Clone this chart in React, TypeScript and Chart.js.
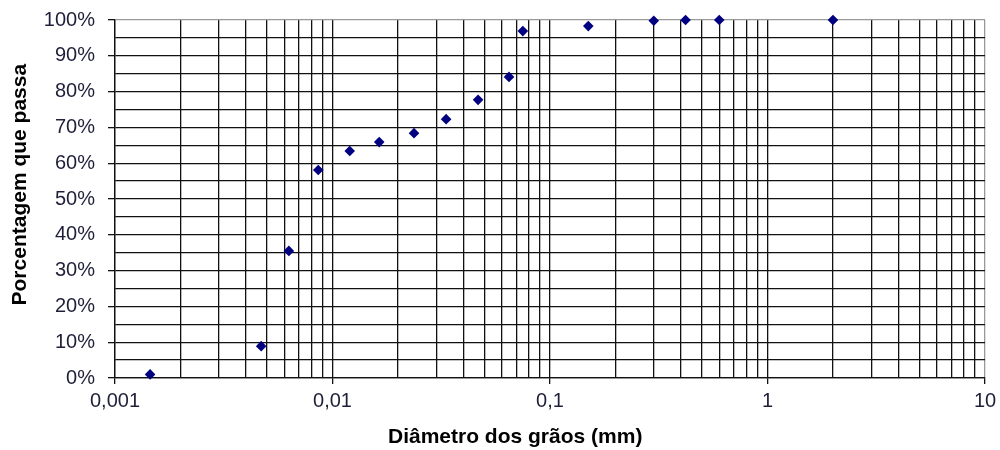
import React, { useEffect, useRef } from "react";
import { Chart, registerables } from "chart.js";

Chart.register(...registerables);

// Grain size distribution (diameter in mm, percent passing)
const diameters = [0.00145, 0.0047, 0.0063, 0.0086, 0.012, 0.0164, 0.0237, 0.0333, 0.0467, 0.0648, 0.075, 0.15, 0.3, 0.42, 0.6, 2.0];
const passing = [1, 8.9, 35.5, 58.1, 63.4, 65.9, 68.4, 72.3, 77.7, 84.1, 96.9, 98.3, 99.8, 100, 100, 100];

const decades = [0.001, 0.01, 0.1, 1, 10];
const decadeLabels = ["0,001", "0,01", "0,1", "1", "10"];
const minorMultipliers = [1, 2, 3, 4, 5, 6, 7, 8, 9];
const yGridValues = [0, 5, 10, 15, 20, 25, 30, 35, 40, 45, 50, 55, 60, 65, 70, 75, 80, 85, 90, 95, 100];

const xTitle = "Diâmetro dos grãos (mm)";
const yTitle = "Porcentagem que passa";

const xTickValues: number[] = [];
decades.slice(0, -1).forEach((d) => minorMultipliers.forEach((m) => xTickValues.push(m * d)));
xTickValues.push(decades[decades.length - 1]);

const FONT = '"Liberation Sans", Arial, sans-serif';

const titlePlugin = {
  id: "axisTitles",
  afterDraw(chart: any) {
    const { ctx, chartArea } = chart;
    const w = chartArea.right - chartArea.left;
    const h = chartArea.bottom - chartArea.top;
    ctx.save();
    ctx.fillStyle = "#000";
    ctx.font = `bold 21px ${FONT}`;
    ctx.textAlign = "center";
    ctx.textBaseline = "middle";
    ctx.fillText(xTitle, chartArea.left + w * 0.46, chartArea.bottom + 59);
    ctx.translate(20, chartArea.top + h * 0.46);
    ctx.rotate(-Math.PI / 2);
    ctx.fillText(yTitle, 0, 0);
    ctx.restore();
  },
};

export default function App() {
  const ref = useRef<HTMLCanvasElement | null>(null);

  useEffect(() => {
    if (!ref.current) return;
    const chart = new Chart(ref.current, {
      type: "scatter",
      data: {
        datasets: [
          {
            data: diameters.map((d, i) => ({ x: d, y: passing[i] })),
            pointStyle: "rectRot",
            pointRadius: 5.3,
            pointBackgroundColor: "#000080",
            pointBorderColor: "#000080",
            pointBorderWidth: 0,
            showLine: false,
            clip: false as any,
          },
        ],
      },
      options: {
        animation: false,
        responsive: false,
        layout: { padding: { left: 0, top: 20, right: 15, bottom: 0 } },
        plugins: {
          legend: { display: false },
          tooltip: { enabled: false },
          title: { display: false },
        },
        scales: {
          x: {
            type: "logarithmic",
            min: 0.001,
            max: 10,
            afterBuildTicks: (scale: any) => {
              scale.ticks = xTickValues.map((v) => ({ value: v, major: decades.includes(v) }));
            },
            afterFit: (scale: any) => {
              scale.height = 72;
              scale.paddingLeft = 0;
              scale.paddingRight = 0;
            },
            ticks: {
              autoSkip: false,
              maxRotation: 0,
              minRotation: 0,
              padding: 5,
              color: "#1f1f3a",
              font: { family: FONT, size: 20 },
              callback: (value: any) => {
                const i = decades.indexOf(Number(value));
                return i >= 0 ? decadeLabels[i] : "";
              },
            },
            grid: {
              color: (ctx: any) => (ctx.tick && ctx.tick.value === 10 ? "#999" : "#111"),
              lineWidth: 1.3,
              tickLength: 6,
              tickColor: (ctx: any) => (ctx.tick && decades.includes(ctx.tick.value) ? "#111" : "rgba(0,0,0,0)"),
            },
            border: { color: "#111", width: 1.3 },
          },
          y: {
            min: 0,
            max: 100,
            afterBuildTicks: (scale: any) => {
              scale.ticks = yGridValues.map((v) => ({ value: v }));
            },
            afterFit: (scale: any) => {
              scale.width = 115;
              scale.paddingTop = 0;
              scale.paddingBottom = 0;
            },
            ticks: {
              autoSkip: false,
              padding: 13,
              color: "#1f1f3a",
              font: { family: FONT, size: 20 },
              callback: (value: any) => (Number(value) % 10 === 0 ? `${value}%` : ""),
            },
            grid: {
              color: (ctx: any) => (ctx.tick && ctx.tick.value === 100 ? "#999" : "#111"),
              lineWidth: 1.3,
              tickLength: 7,
              tickColor: (ctx: any) => (ctx.tick && ctx.tick.value % 10 === 0 ? "#111" : "rgba(0,0,0,0)"),
            },
            border: { color: "#111", width: 1.3 },
          },
        },
      },
      plugins: [titlePlugin],
    });
    return () => chart.destroy();
  }, []);

  return (
    <div style={{ position: "fixed", left: 0, top: 0, width: 1000, height: 450, background: "#fff" }}>
      <canvas ref={ref} width={1000} height={450} style={{ display: "block" }} />
    </div>
  );
}
